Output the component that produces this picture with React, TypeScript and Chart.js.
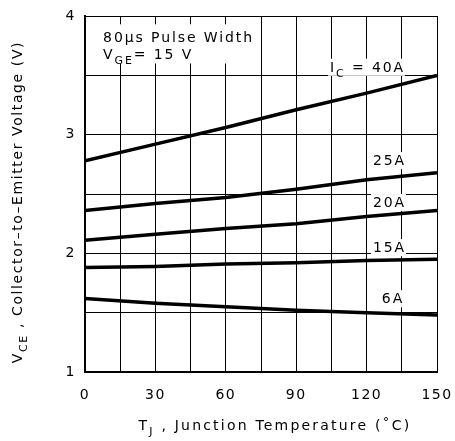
import React, { useEffect, useRef } from 'react';
import { Chart, registerables } from 'chart.js';

Chart.register(...registerables);

const temps = [0, 30, 60, 90, 120, 150];
const vce40A = [2.78, 2.92, 3.06, 3.21, 3.35, 3.5];
const vce25A = [2.36, 2.42, 2.47, 2.54, 2.62, 2.68];
const vce20A = [2.11, 2.16, 2.21, 2.25, 2.31, 2.36];
const vce15A = [1.88, 1.89, 1.91, 1.92, 1.94, 1.95];
const vce6A = [1.62, 1.58, 1.55, 1.52, 1.5, 1.48];
const xTickLabels = [0, 30, 60, 90, 120, 150];
const yTickLabels = [1, 2, 3, 4];

const FONT = '"DejaVu Sans", sans-serif';

type Seg = { t: string; sub?: boolean };

function measureRich(ctx: CanvasRenderingContext2D, segs: Seg[], size: number) {
  return segs.map((s) => {
    ctx.font = `${s.sub ? Math.round(size * 0.8) : size}px ${FONT}`;
    return ctx.measureText(s.t).width;
  });
}

function drawRich(ctx: CanvasRenderingContext2D, segs: Seg[], x: number, y: number, align: 'left' | 'center', size: number) {
  const widths = measureRich(ctx, segs, size);
  const total = widths.reduce((a, b) => a + b, 0);
  let cx = align === 'center' ? x - total / 2 : x;
  ctx.textAlign = 'left';
  ctx.textBaseline = 'alphabetic';
  ctx.fillStyle = '#000';
  segs.forEach((s, i) => {
    ctx.font = `${s.sub ? Math.round(size * 0.8) : size}px ${FONT}`;
    ctx.fillText(s.t, cx, y + (s.sub ? size * 0.35 : 0));
    cx += widths[i];
  });
  return total;
}

const curveLabels: { segs: Seg[]; x: number; y: number }[] = [
  { segs: [{ t: 'I' }, { t: 'C', sub: true }, { t: ' = 40A' }], x: 104.4, y: 3.53 },
  { segs: [{ t: '25A' }], x: 122.7, y: 2.744 },
  { segs: [{ t: '20A' }], x: 122.7, y: 2.39 },
  { segs: [{ t: '15A' }], x: 122.7, y: 2.01 },
  { segs: [{ t: '6A' }], x: 126.5, y: 1.58 },
];

const annotPlugin = {
  id: 'annot',
  beforeDraw(chart: any) {
    (chart.ctx as any).letterSpacing = '1.5px';
  },
  beforeDatasetsDraw(chart: any) {
    const ctx: CanvasRenderingContext2D = chart.ctx;
    const xs = chart.scales.x;
    const ys = chart.scales.y;
    ctx.save();
    (ctx as any).letterSpacing = '1.9px';
    // info box mask
    const bx0 = xs.getPixelForValue(1.2);
    const bx1 = xs.getPixelForValue(73.5);
    const by0 = ys.getPixelForValue(3.93);
    const by1 = ys.getPixelForValue(3.6);
    ctx.fillStyle = '#fff';
    ctx.fillRect(bx0, by0, bx1 - bx0, by1 - by0);
    const tx = xs.getPixelForValue(7.7);
    drawRich(ctx, [{ t: '80\u00b5s Pulse Width' }], tx, ys.getPixelForValue(3.78), 'left', 14);
    drawRich(ctx, [{ t: 'V' }, { t: 'GE', sub: true }, { t: '= 15 V' }], tx, ys.getPixelForValue(3.64), 'left', 14);

    curveLabels.forEach((l) => {
      const px = xs.getPixelForValue(l.x);
      const py = ys.getPixelForValue(l.y);
      const w = measureRich(ctx, l.segs, 14).reduce((a, b) => a + b, 0);
      ctx.fillStyle = '#fff';
      ctx.fillRect(px - 2, py - 13, w + 2, 17);
      drawRich(ctx, l.segs, px, py, 'left', 14);
    });
    ctx.restore();
  },
  afterDraw(chart: any) {
    const ctx: CanvasRenderingContext2D = chart.ctx;
    ctx.save();
    (ctx as any).letterSpacing = '2.2px';
    drawRich(
      ctx,
      [{ t: 'T' }, { t: 'J', sub: true }, { t: ' , Junction Temperature (\u02daC)' }],
      275,
      430,
      'center',
      14
    );
    (ctx as any).letterSpacing = '1.6px';
    ctx.translate(22, 202);
    ctx.rotate(-Math.PI / 2);
    drawRich(
      ctx,
      [{ t: 'V' }, { t: 'CE', sub: true }, { t: ' , Collector\u2013to\u2013Emitter Voltage (V)' }],
      0,
      0,
      'center',
      14
    );
    ctx.restore();
  },
};

function mk(vals: number[]) {
  return temps.map((t, i) => ({ x: t, y: vals[i] }));
}

export default function App() {
  const ref = useRef<HTMLCanvasElement>(null);
  useEffect(() => {
    if (!ref.current) return;
    const series = [vce40A, vce25A, vce20A, vce15A, vce6A];
    const chart = new Chart(ref.current, {
      type: 'line',
      data: {
        datasets: series.map((s) => ({
          data: mk(s),
          borderColor: '#000',
          borderWidth: 3.5,
          pointRadius: 0,
          tension: 0,
          fill: false,
        })),
      },
      options: {
        responsive: false,
        animation: false,
        layout: { padding: { left: 0, right: 18, top: 16, bottom: 0 } },
        plugins: { legend: { display: false }, tooltip: { enabled: false } },
        scales: {
          x: {
            type: 'linear',
            min: 0,
            max: 150,
            afterFit: (s: any) => {
              s.height = 69;
              s.paddingLeft = 0;
              s.paddingRight = 0;
            },
            ticks: {
              stepSize: 15,
              autoSkip: false,
              maxRotation: 0,
              padding: 15,
              color: '#000',
              font: { family: FONT, size: 14 },
              callback: (v: any) => (xTickLabels.includes(Number(v)) ? String(v) : ''),
            },
            grid: { color: '#000', lineWidth: 1, drawTicks: false },
            border: { color: '#000', width: 2 },
          },
          y: {
            type: 'linear',
            min: 1,
            max: 4,
            afterFit: (s: any) => {
              s.width = 85;
              s.paddingTop = 0;
              s.paddingBottom = 0;
            },
            ticks: {
              stepSize: 0.5,
              autoSkip: false,
              padding: 9,
              color: '#000',
              font: { family: FONT, size: 14 },
              callback: (v: any) => (yTickLabels.includes(Number(v)) ? String(v) : ''),
            },
            grid: { color: '#000', lineWidth: 1, drawTicks: false },
            border: { color: '#000', width: 2 },
          },
        },
      },
      plugins: [annotPlugin],
    });
    return () => chart.destroy();
  }, []);
  return (
    <div style={{ position: 'absolute', left: 0, top: 0, width: 455, height: 441, background: '#fff' }}>
      <canvas ref={ref} width={455} height={441} style={{ display: 'block' }} />
    </div>
  );
}
